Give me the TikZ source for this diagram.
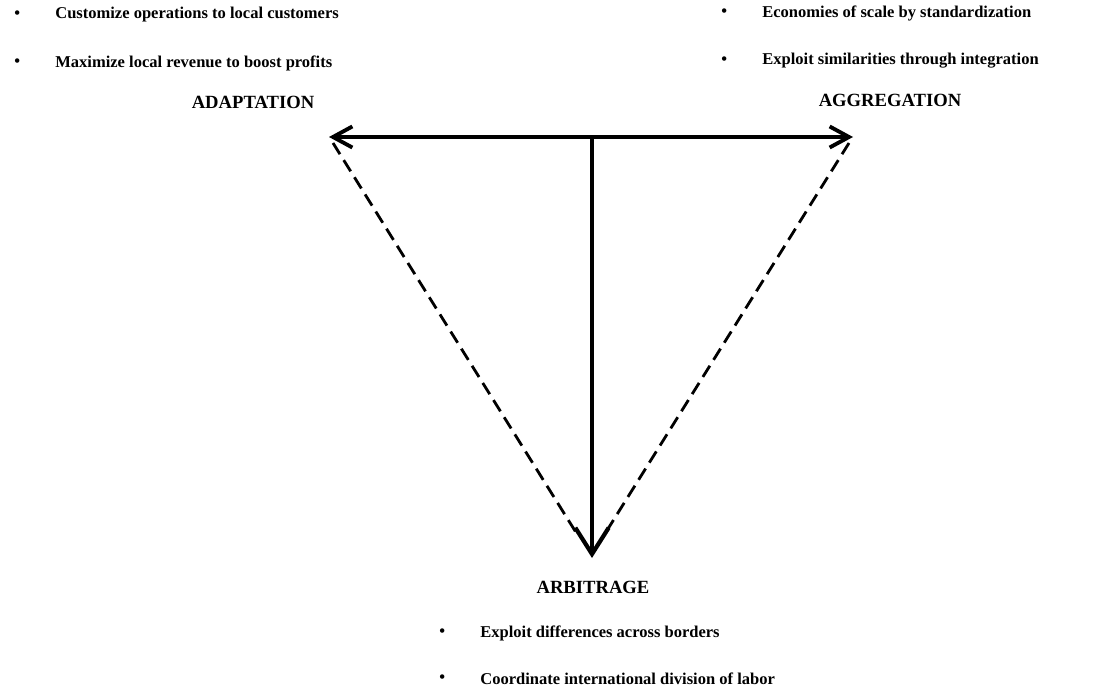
\documentclass[tikz,border=0pt]{standalone}
\usepackage{fontspec}
\setmainfont{Liberation Serif}
\usetikzlibrary{arrows.meta}

\begin{document}
\begin{tikzpicture}[x=0.02cm,y=-0.02cm,
    point/.style={font=\fontsize{9.4pt}{11pt}\selectfont\bfseries,inner sep=0pt,anchor=west},
    corner/.style={font=\fontsize{10.6pt}{12pt}\selectfont\bfseries,inner sep=0pt},
    barb/.tip={Straight Barb[length=11pt,width=12pt,line width=2.2pt]},
    bigbarb/.tip={Straight Barb[length=15pt,width=19pt,line width=2.4pt]},
    axis/.style={line width=2.3pt},
    side/.style={line width=1.6pt,dash pattern=on 7.5pt off 4pt}]
  \useasboundingbox (0,0) rectangle (1099,692);
  % corners of the triangle
  \coordinate (adapt) at (329,137);
  \coordinate (aggr) at (853,137);
  \coordinate (mid) at (592,139);
  \coordinate (arbit) at (592,558);
  \coordinate (leftend) at (577,534);
  \coordinate (rightend) at (606,532);
  \draw[axis,barb-barb] (adapt) -- (aggr);
  \draw[axis,-bigbarb] (mid) -- (arbit);
  \draw[side] (333,143) -- (leftend);
  \draw[side] (849,143) -- (rightend);
  % labels
  \node[corner] (adaptlbl) at (253,102) {ADAPTATION};
  \node[corner] (aggrlbl) at (890,100) {AGGREGATION};
  \node[corner] (arbitlbl) at (593,587) {ARBITRAGE};
  % bullet points
  \foreach \x/\y/\t [count=\n] in {
      55/15/Customize operations to local customers,
      55/63/Maximize local revenue to boost profits,
      762/13/Economies of scale by standardization,
      762/61/Exploit similarities through integration,
      480/633/Exploit differences across borders,
      480/679/Coordinate international division of labor}{
    \node[point] (b\n) at (\x-41,\y) {\textbullet};
    \node[point] (p\n) at (\x,\y) {\t};
  }
\end{tikzpicture}
\end{document}
